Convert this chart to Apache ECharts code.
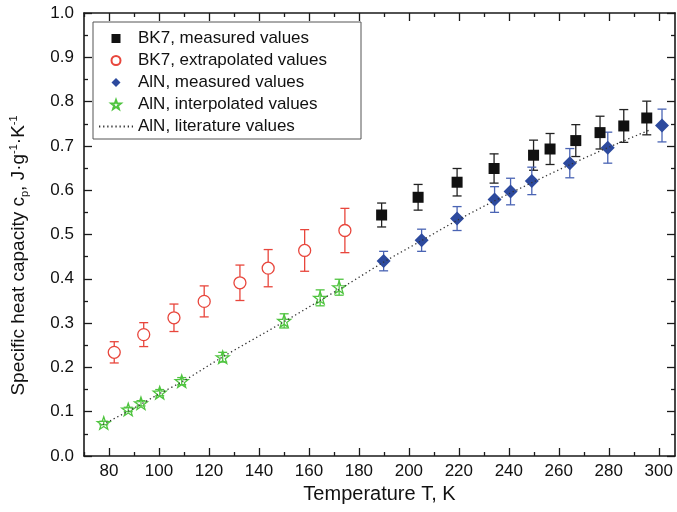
<!DOCTYPE html>
<html><head><meta charset="utf-8">
<script src="https://cdn.jsdelivr.net/npm/echarts@6/dist/echarts.min.js"></script>
<style>html,body{margin:0;padding:0;background:#fff}#c{width:677px;height:512px}</style>
</head><body><div id="c"></div>
<script>
// ---- data ----
const bk7MeasT   = [189.1, 203.7, 219.3, 234.1, 249.9, 256.5, 266.8, 276.5, 286.0, 295.2];
const bk7MeasCp  = [0.544, 0.584, 0.618, 0.649, 0.679, 0.693, 0.712, 0.730, 0.745, 0.763];
const bk7MeasErr = [0.027, 0.029, 0.031, 0.033, 0.034, 0.035, 0.036, 0.037, 0.037, 0.038];

const bk7ExtT   = [82.1, 93.9, 106.0, 118.1, 132.4, 143.7, 158.3, 174.4];
const bk7ExtCp  = [0.234, 0.274, 0.312, 0.349, 0.391, 0.424, 0.464, 0.509];
const bk7ExtErr = [0.024, 0.027, 0.031, 0.035, 0.040, 0.042, 0.047, 0.050];

const alnMeasT   = [189.9, 205.1, 219.3, 234.3, 240.7, 249.2, 264.4, 279.6, 301.3];
const alnMeasCp  = [0.440, 0.487, 0.536, 0.579, 0.597, 0.621, 0.661, 0.696, 0.746];
const alnMeasErr = [0.022, 0.025, 0.027, 0.029, 0.030, 0.031, 0.033, 0.035, 0.037];

const alnIntT   = [77.9, 87.7, 92.8, 100.3, 109.1, 125.5, 150.1, 164.5, 172.1];
const alnIntCp  = [0.0745, 0.105, 0.119, 0.143, 0.169, 0.223, 0.305, 0.357, 0.381];
const alnIntErr = [0.004, 0.005, 0.006, 0.007, 0.008, 0.011, 0.016, 0.018, 0.018];

const alnLitT  = [77.5, 90, 100, 110, 125, 150, 165, 175, 190, 205, 220, 235, 250, 265, 280, 296];
const alnLitCp = [0.071, 0.108, 0.140, 0.170, 0.222, 0.303, 0.353, 0.386, 0.438, 0.486, 0.534, 0.578, 0.619, 0.659, 0.697, 0.735];

const xMajorTicks = [80, 100, 120, 140, 160, 180, 200, 220, 240, 260, 280, 300];
const xMinorTicks = [70, 90, 110, 130, 150, 170, 190, 210, 230, 250, 270, 290];

const names = ['BK7, measured values', 'BK7, extrapolated values', 'AlN, measured values', 'AlN, interpolated values', 'AlN, literature values'];

// ---- helpers ----
const FONT = '"Liberation Sans", Arial, Helvetica, sans-serif';
const AX = '#1a1a1a';
const pairs = (xs, ys) => xs.map((x, i) => [x, ys[i]]);
const errs = (xs, ys, es) => xs.map((x, i) => [x, ys[i] - es[i], ys[i] + es[i]]);
const STAR = 'path://M50,0 L61.5,33.5 L97.55,34.55 L69,56.5 L79.39,90.45 L50,70.5 L20.61,90.45 L31,56.5 L2.45,34.55 L38.5,33.5 Z';
const SQUARE_ICON = 'path://M0,0 L10,0 L10,10 L0,10 Z';
const DIAMOND_ICON = 'path://M5,0 L10,5 L5,10 L0,5 Z';

function errSeries(data, color) {
  return {
    type: 'custom', data: data, z: 2, silent: true,
    encode: { x: 0, y: [1, 2] },
    renderItem: function (params, api) {
      const x = api.value(0), lo = api.value(1), hi = api.value(2);
      const p1 = api.coord([x, lo]), p2 = api.coord([x, hi]);
      const w = 4.5;
      const style = { stroke: color, lineWidth: 1.3, fill: null };
      return { type: 'group', children: [
        { type: 'line', shape: { x1: p1[0], y1: p1[1], x2: p2[0], y2: p2[1] }, style: style },
        { type: 'line', shape: { x1: p1[0] - w, y1: p1[1], x2: p1[0] + w, y2: p1[1] }, style: style },
        { type: 'line', shape: { x1: p2[0] - w, y1: p2[1], x2: p2[0] + w, y2: p2[1] }, style: style }
      ]};
    }
  };
}

function xAx(pos, ticks, len, labels, line) {
  return {
    type: 'value', min: 70, max: 306.5, position: pos,
    axisLine: { show: line, onZero: false, lineStyle: { color: AX, width: 1.6 } },
    axisTick: { show: true, inside: true, length: len, customValues: ticks, lineStyle: { color: AX, width: 1.3 } },
    axisLabel: labels ? { show: true, customValues: ticks, margin: 7, fontSize: 17, color: '#111', fontFamily: FONT } : { show: false },
    splitLine: { show: false }
  };
}

const xAxes = [
  Object.assign(xAx('bottom', xMajorTicks, 8, true, true), {
    name: 'Temperature T, K', nameLocation: 'middle', nameGap: 26,
    nameTextStyle: { fontSize: 20, color: '#111', fontFamily: FONT }
  }),
  xAx('bottom', xMinorTicks, 4, false, false),
  xAx('top', xMajorTicks, 8, false, true),
  xAx('top', xMinorTicks, 4, false, false)
];

function yAx(pos, labels) {
  return {
    type: 'value', min: 0, max: 1, interval: 0.1, position: pos,
    axisLine: { show: true, onZero: false, lineStyle: { color: AX, width: 1.6 } },
    axisTick: { show: true, inside: true, length: 8, lineStyle: { color: AX, width: 1.3 } },
    minorTick: { show: true, splitNumber: 2, length: 4, lineStyle: { color: AX, width: 1.3 } },
    axisLabel: labels ? { show: true, margin: 10, fontSize: 17, color: '#111', fontFamily: FONT,
                          formatter: v => v.toFixed(1) } : { show: false },
    splitLine: { show: false }, minorSplitLine: { show: false }
  };
}
const yAxes = [
  Object.assign(yAx('left', true), {
    name: '{a|Specific heat capacity c}{s|p}{a|, J·g}{u|-1}{a|·K}{u|-1}',
    nameLocation: 'middle', nameGap: 54,
    nameTextStyle: {
      padding: [0, 42, 0, 0],
      rich: {
        a: { fontSize: 19, color: '#111', fontFamily: FONT, lineHeight: 22 },
        s: { fontSize: 11, color: '#111', fontFamily: FONT, lineHeight: 11, verticalAlign: 'bottom' },
        u: { fontSize: 11, color: '#111', fontFamily: FONT, lineHeight: 11, verticalAlign: 'top' }
      }
    }
  }),
  yAx('right', false)
];

const option = {
  animation: false,
  backgroundColor: '#fff',
  textStyle: { fontFamily: FONT },
  grid: { left: 83, right: 2, top: 13, bottom: 56 },
  xAxis: xAxes,
  yAxis: yAxes,
  legend: {
    left: 93, top: 22, orient: 'vertical',
    itemWidth: 34, itemHeight: 9, itemGap: 5,
    symbolKeepAspect: true,
    padding: [8, 34, 4, 5],
    borderColor: '#555', borderWidth: 1, backgroundColor: '#fff',
    textStyle: { fontSize: 17, color: '#111', fontFamily: FONT, lineHeight: 16 },
    data: [
      { name: names[0], icon: SQUARE_ICON },
      names[1],
      { name: names[2], icon: DIAMOND_ICON },
      names[3],
      { name: names[4], itemStyle: { opacity: 0 } }
    ]
  },
  series: [
    errSeries(errs(bk7MeasT, bk7MeasCp, bk7MeasErr), '#222'),
    errSeries(errs(bk7ExtT, bk7ExtCp, bk7ExtErr), '#e8463c'),
    errSeries(errs(alnMeasT, alnMeasCp, alnMeasErr), '#4a64b4'),
    errSeries(errs(alnIntT, alnIntCp, alnIntErr), '#4fc43f'),
    { name: names[0], type: 'scatter', z: 3, symbol: 'rect', symbolSize: 11,
      itemStyle: { color: '#111', opacity: 1 }, data: pairs(bk7MeasT, bk7MeasCp) },
    { name: names[1], type: 'scatter', z: 3, symbol: 'circle', symbolSize: 12,
      itemStyle: { color: '#fff', borderColor: '#e8463c', borderWidth: 1.3, opacity: 1 }, data: pairs(bk7ExtT, bk7ExtCp) },
    { name: names[2], type: 'scatter', z: 3, symbol: 'diamond', symbolSize: 14,
      itemStyle: { color: '#2d4a9e', opacity: 1 }, data: pairs(alnMeasT, alnMeasCp) },
    { name: names[3], type: 'scatter', z: 3, symbol: STAR, symbolSize: 13, symbolKeepAspect: true,
      itemStyle: { color: 'rgba(255,255,255,0)', borderColor: '#4fc43f', borderWidth: 1.3, opacity: 1 }, data: pairs(alnIntT, alnIntCp) },
    { name: names[4], type: 'line', z: 5, symbol: 'none', smooth: 0.3,
      lineStyle: { color: '#333', width: 1.3, type: [1.3, 2.8] }, itemStyle: { color: '#333' },
      data: pairs(alnLitT, alnLitCp) }
  ]
};
echarts.init(document.getElementById('c')).setOption(option);
</script></body></html>
